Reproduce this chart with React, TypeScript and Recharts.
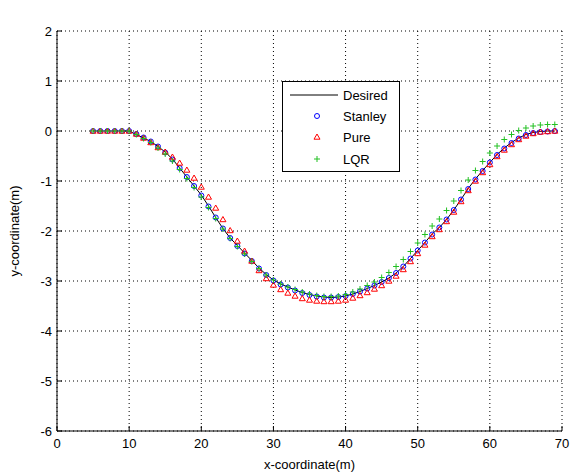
import { LineChart, Line, XAxis, YAxis, CartesianGrid, Legend } from "recharts";

const FONT = '"Liberation Sans", Arial, sans-serif';

// x positions (m)
const xs = [
  5, 6, 7, 8, 9, 10, 11, 12, 13, 14,
  15, 16, 17, 18, 19, 20, 21, 22, 23, 24,
  25, 26, 27, 28, 29, 30, 31, 32, 33, 34,
  35, 36, 37, 38, 39, 40, 41, 42, 43, 44,
  45, 46, 47, 48, 49, 50, 51, 52, 53, 54,
  55, 56, 57, 58, 59, 60, 61, 62, 63, 64,
  65, 66, 67, 68, 69,
];

const desired = [
  0, 0, 0, 0, 0, 0, -0.07, -0.14, -0.21, -0.31,
  -0.42, -0.56, -0.74, -0.92, -1.1, -1.28, -1.5, -1.73, -1.95, -2.14,
  -2.29, -2.44, -2.59, -2.74, -2.87, -2.98, -3.06, -3.12, -3.18, -3.23,
  -3.27, -3.3, -3.32, -3.33, -3.32, -3.3, -3.26, -3.21, -3.15, -3.09,
  -3.02, -2.94, -2.84, -2.71, -2.55, -2.39, -2.23, -2.06, -1.93, -1.77,
  -1.58, -1.37, -1.15, -0.96, -0.79, -0.63, -0.47, -0.34, -0.23, -0.14,
  -0.07, -0.03, -0.01, 0, 0,
];

const stanley = [
  0, 0, 0, 0, 0, 0, -0.06, -0.13, -0.21, -0.31,
  -0.43, -0.57, -0.74, -0.92, -1.1, -1.29, -1.51, -1.73, -1.95, -2.14,
  -2.3, -2.45, -2.6, -2.75, -2.88, -2.99, -3.07, -3.13, -3.19, -3.24,
  -3.28, -3.31, -3.33, -3.33, -3.32, -3.3, -3.26, -3.21, -3.15, -3.09,
  -3.02, -2.94, -2.84, -2.71, -2.55, -2.39, -2.23, -2.07, -1.93, -1.77,
  -1.58, -1.37, -1.16, -0.97, -0.8, -0.63, -0.48, -0.35, -0.24, -0.15,
  -0.08, -0.04, -0.02, -0.01, 0,
];

const pure = [
  0, 0, 0, 0, 0, 0, -0.06, -0.14, -0.23, -0.33,
  -0.42, -0.52, -0.64, -0.78, -0.94, -1.12, -1.32, -1.54, -1.77, -1.99,
  -2.2, -2.4, -2.6, -2.79, -2.95, -3.08, -3.17, -3.24, -3.3, -3.35,
  -3.38, -3.4, -3.41, -3.41, -3.4, -3.38, -3.34, -3.29, -3.23, -3.16,
  -3.09, -3.0, -2.9, -2.77, -2.61, -2.45, -2.28, -2.11, -1.97, -1.81,
  -1.62, -1.41, -1.19, -1.0, -0.83, -0.67, -0.51, -0.38, -0.27, -0.17,
  -0.1, -0.05, -0.02, -0.01, 0,
];

const lqr = [
  0, 0, 0, 0, 0, 0, -0.07, -0.15, -0.23, -0.34,
  -0.46, -0.6, -0.77, -0.95, -1.13, -1.32, -1.53, -1.75, -1.96, -2.15,
  -2.31, -2.46, -2.61, -2.75, -2.88, -2.98, -3.06, -3.12, -3.17, -3.22,
  -3.26, -3.29, -3.31, -3.31, -3.3, -3.27, -3.22, -3.16, -3.09, -3.02,
  -2.93, -2.83, -2.71, -2.57, -2.41, -2.24, -2.07, -1.9, -1.76, -1.59,
  -1.4, -1.19, -0.98, -0.79, -0.61, -0.44, -0.3, -0.17, -0.07, 0.01,
  0.06, 0.1, 0.12, 0.13, 0.13,
];

const xTicks = [0, 10, 20, 30, 40, 50, 60, 70];
const yTicks = [-6, -5, -4, -3, -2, -1, 0, 1, 2];
const names = ["Desired", "Stanley", "Pure", "LQR"];

const BLUE = "#0000ff";
const RED = "#ff0000";
const GREEN = "#22c022";

const data = xs.map((x, i) => ({
  x,
  desired: desired[i],
  stanley: stanley[i],
  pure: pure[i],
  lqr: lqr[i],
}));

function circleMark(cx: number, cy: number, key?: string) {
  return <circle key={key} cx={cx} cy={cy} r={2.5} fill="none" stroke={BLUE} strokeWidth={1} />;
}
function triMark(cx: number, cy: number, key?: string) {
  return (
    <polygon
      key={key}
      points={`${cx},${cy - 3} ${cx - 3},${cy + 2.2} ${cx + 3},${cy + 2.2}`}
      fill="none"
      stroke={RED}
      strokeWidth={1}
    />
  );
}
function plusMark(cx: number, cy: number, key?: string) {
  return (
    <path key={key} d={`M${cx - 3},${cy}H${cx + 3}M${cx},${cy - 3}V${cy + 3}`} stroke={GREEN} strokeWidth={1} fill="none" />
  );
}

const dotFn = (mark: typeof circleMark, id: string) => (p: any) => {
  if (p.cx == null || p.cy == null) return <g key={`${id}-${p.index}`} />;
  return mark(p.cx, p.cy, `${id}-${p.index}`);
};

function LegendBox() {
  const rowY = [14, 35, 56, 78];
  return (
    <svg width={118} height={91} style={{ display: "block" }}>
      <rect x={0.5} y={0.5} width={117} height={90} fill="#fff" stroke="#000" />
      <line x1={8} x2={56} y1={rowY[0]} y2={rowY[0]} stroke="#000" />
      {circleMark(35, rowY[1])}
      {triMark(35, rowY[2])}
      {plusMark(35, rowY[3])}
      {names.map((n, i) => (
        <text key={n} x={61} y={rowY[i]} dominantBaseline="central" fontSize={13} fontFamily={FONT} fill="#000">
          {n}
        </text>
      ))}
    </svg>
  );
}

export default function App() {
  const tickStyle = { fill: "#000", fontSize: 13, fontFamily: FONT };
  return (
    <div style={{ position: "absolute", left: 0, top: 0, width: 579, height: 475, background: "#fff", fontFamily: FONT }}>
      <LineChart width={579} height={475} data={data} margin={{ top: 31, right: 17, bottom: 4, left: 0 }}>
        <CartesianGrid stroke="#000" strokeDasharray="1 3" />
        <XAxis
          dataKey="x"
          type="number"
          domain={[0, 70]}
          ticks={xTicks}
          height={40}
          tickSize={-5}
          tickMargin={13}
          stroke="#000"
          tick={tickStyle}
          label={{ value: "x-coordinate(m)", position: "insideBottom", offset: 2, fill: "#000", fontSize: 13, fontFamily: FONT }}
        />
        <XAxis
          xAxisId="top"
          orientation="top"
          dataKey="x"
          type="number"
          domain={[0, 70]}
          ticks={xTicks}
          height={0}
          tickSize={-5}
          tick={false}
          stroke="#000"
          label={{ value: "Forward Driving", position: "top", offset: 9, fill: "#000", fontSize: 13, fontFamily: FONT }}
        />
        <YAxis
          type="number"
          domain={[-6, 2]}
          ticks={yTicks}
          width={57}
          tickSize={-5}
          tickMargin={10}
          stroke="#000"
          tick={tickStyle}
          label={{ value: "y-coordinate(m)", angle: -90, position: "center", dx: -14, fill: "#000", fontSize: 13, fontFamily: FONT }}
        />
        <YAxis
          yAxisId="right"
          orientation="right"
          type="number"
          domain={[-6, 2]}
          ticks={yTicks}
          width={0}
          tickSize={-5}
          tick={false}
          stroke="#000"
        />
        <Line dataKey="desired" name="Desired" stroke="#000" strokeWidth={1} dot={false} activeDot={false} isAnimationActive={false} />
        <Line dataKey="stanley" name="Stanley" stroke="none" dot={dotFn(circleMark, "s")} activeDot={false} isAnimationActive={false} />
        <Line dataKey="pure" name="Pure" stroke="none" dot={dotFn(triMark, "p")} activeDot={false} isAnimationActive={false} />
        <Line dataKey="lqr" name="LQR" stroke="none" dot={dotFn(plusMark, "l")} activeDot={false} isAnimationActive={false} />
        <Legend
          layout="vertical"
          align="center"
          verticalAlign="middle"
          content={() => <LegendBox />}
          wrapperStyle={{ left: 282, top: 81, width: 118, height: 91 }}
        />
      </LineChart>
    </div>
  );
}
